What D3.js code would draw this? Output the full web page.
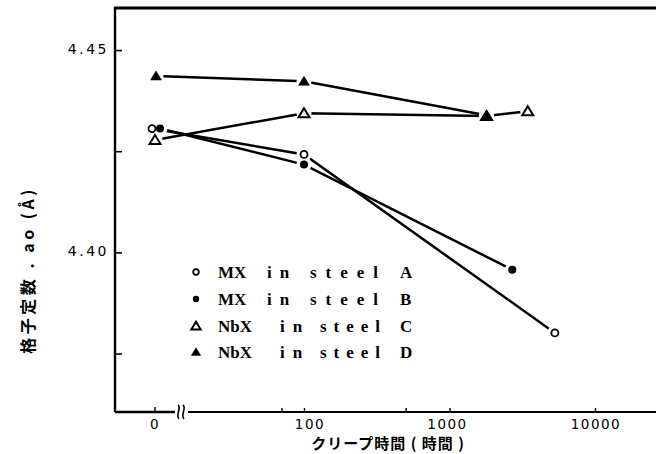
<!DOCTYPE html>
<html><head><meta charset="utf-8">
<script src="https://cdn.jsdelivr.net/npm/d3@7"></script>
<style>
html,body{margin:0;padding:0;background:#fff;}
svg{display:block;}
</style></head>
<body>
<svg id="chart" width="656" height="454"></svg>
<script>
// ---- data ----
const seriesNames = ["MX in steel A", "MX in steel B", "NbX in steel C", "NbX in steel D"];
const hoursA = [0, 100, 5300];
const valuesA = [4.4306, 4.4242, 4.3801];
const hoursB = [0, 100, 2700];
const valuesB = [4.4306, 4.4217, 4.3957];
const hoursC = [0, 100, 1800, 3450];
const valuesC = [4.4278, 4.4344, 4.4337, 4.4349];
const hoursD = [0, 100, 1790];
const valuesD = [4.4436, 4.4423, 4.4339];
const yTicks = [4.375, 4.40, 4.425, 4.45];
const yTickLabels = ["", "4.40", "", "4.45"];
const xMajorTicks = [100, 1000, 10000];
const xMajorLabels = ["100", "1000", "10000"];
const xMinorTicks = [70, 500];
const xTitle = "クリープ時間 ( 時間 )";
const yTitle = "格子定数 . ao (Å)";

// ---- layout ----
const plotLeft = 115, plotTop = 8, plotBottom = 412, rightEdge = 656;
const zeroX = 155;
const svg = d3.select("#chart");

const y = d3.scaleLinear().domain([4.3608, 4.4604]).range([411, 8]);
const xLog = d3.scaleLog().domain([100, 10000]).range([304, 595]);
const xPos = h => h === 0 ? zeroX : xLog(h);

const series = [
  {name: seriesNames[0], hours: hoursA, values: valuesA, shape: "circle", fill: false, dx0: -3},
  {name: seriesNames[1], hours: hoursB, values: valuesB, shape: "circle", fill: true, dx0: 5},
  {name: seriesNames[2], hours: hoursC, values: valuesC, shape: "tri", fill: false, dx0: 0},
  {name: seriesNames[3], hours: hoursD, values: valuesD, shape: "tri", fill: true, dx0: 1},
];

// axes frame
svg.append("line").attr("x1", plotLeft).attr("x2", plotLeft).attr("y1", plotTop - 1).attr("y2", plotBottom)
  .attr("stroke", "#000").attr("stroke-width", 2.4);
svg.append("line").attr("x1", plotLeft - 1).attr("x2", rightEdge).attr("y1", plotTop).attr("y2", plotTop)
  .attr("stroke", "#000").attr("stroke-width", 2.8);
// bottom axis with break
svg.append("line").attr("x1", plotLeft).attr("x2", 175).attr("y1", plotBottom).attr("y2", plotBottom)
  .attr("stroke", "#000").attr("stroke-width", 2.4);
svg.append("line").attr("x1", 188).attr("x2", rightEdge).attr("y1", plotBottom).attr("y2", plotBottom)
  .attr("stroke", "#000").attr("stroke-width", 2.2);
[178, 183].forEach(bx => {
  svg.append("path")
    .attr("d", `M${bx},${plotBottom - 7} C${bx + 4},${plotBottom - 4} ${bx - 3},${plotBottom + 3} ${bx + 1},${plotBottom + 7}`)
    .attr("fill", "none").attr("stroke", "#000").attr("stroke-width", 1.6);
});

// y ticks
const yAxis = d3.axisRight(y).tickValues(yTicks).tickSize(7).tickFormat(() => "");
const gy = svg.append("g").attr("transform", `translate(${plotLeft},0)`).call(yAxis);
gy.select(".domain").remove();
gy.selectAll(".tick line").attr("stroke", "#000").attr("stroke-width", 1.6);
svg.selectAll(".ylab").data(yTicks.map((v, i) => ({v, l: yTickLabels[i]})).filter(d => d.l))
  .enter().append("text")
  .attr("x", 109).attr("y", d => y(d.v) + 4)
  .attr("text-anchor", "end")
  .attr("font-family", "DejaVu Sans, sans-serif").attr("font-size", 14)
  .attr("letter-spacing", 2.5)
  .text(d => d.l);

// x ticks
const gx = svg.append("g").attr("transform", `translate(0,${plotBottom})`)
  .call(d3.axisTop(xLog).tickValues(xMajorTicks.concat(xMinorTicks)).tickSize(4).tickFormat(() => ""));
gx.select(".domain").remove();
gx.selectAll(".tick line").attr("stroke", "#000").attr("stroke-width", 1.4);
svg.append("line").attr("x1", zeroX).attr("x2", zeroX).attr("y1", plotBottom).attr("y2", plotBottom - 5)
  .attr("stroke", "#000").attr("stroke-width", 1.4);
const xLabelData = [{x: zeroX, l: "0"}].concat(xMajorTicks.map((v, i) => ({x: xLog(v) + (i === 0 ? 6 : (i === 1 ? -2 : 1)), l: xMajorLabels[i]})));
svg.selectAll(".xlab").data(xLabelData).enter().append("text")
  .attr("x", d => d.x).attr("y", 429)
  .attr("text-anchor", "middle")
  .attr("font-family", "DejaVu Sans, sans-serif").attr("font-size", 13.5)
  .attr("letter-spacing", 1.5)
  .text(d => d.l);

// titles
svg.append("text").attr("x", 388).attr("y", 449).attr("text-anchor", "middle")
  .attr("font-family", "Noto Sans CJK JP, sans-serif").attr("font-size", 15).attr("font-weight", "bold")
  .attr("letter-spacing", 1)
  .text(xTitle);
svg.append("text").attr("transform", "translate(34,270) rotate(-90)").attr("text-anchor", "middle")
  .attr("font-family", "Noto Sans CJK JP, sans-serif").attr("font-size", 16).attr("font-weight", "bold")
  .attr("letter-spacing", 3.5)
  .text(yTitle);

// marker drawing
function drawMarker(g, shape, fill, cx, cy, scale) {
  const s = scale || 1;
  if (shape === "circle") {
    g.append("circle").attr("cx", cx).attr("cy", cy).attr("r", (fill ? 4 : 3.5) * s)
      .attr("fill", fill ? "#000" : "#fff").attr("stroke", "#000").attr("stroke-width", fill ? 0 : 1.8);
  } else {
    const w = 5.5 * s, h = 9 * s;
    const pts = [[cx, cy - h * 0.55], [cx + w, cy + h * 0.45], [cx - w, cy + h * 0.45]];
    g.append("path").attr("d", "M" + pts.join("L") + "Z")
      .attr("fill", fill ? "#000" : "#fff").attr("stroke", "#000").attr("stroke-width", fill ? 0.5 : 2)
      .attr("stroke-linejoin", "miter");
  }
}

// lines
const lineGen = d3.line().x(d => d.x).y(d => d.y);
const plotG = svg.append("g");
series.forEach(s => {
  s.pts = s.hours.map((h, i) => ({x: xPos(h) + (h === 0 ? s.dx0 : 0), y: y(s.values[i])}));
  plotG.append("path").datum(s.pts).attr("d", lineGen)
    .attr("fill", "none").attr("stroke", "#000").attr("stroke-width", 2.5);
});
// white gaps around markers
series.forEach(s => {
  s.pts.forEach(p => {
    plotG.append("circle").attr("cx", p.x).attr("cy", p.y).attr("r", 7.5).attr("fill", "#fff");
  });
});
series.forEach(s => {
  s.pts.forEach(p => drawMarker(plotG, s.shape, s.fill, p.x, p.y));
});

// legend
const legendRows = [272, 299, 326, 352];
const legG = svg.append("g");
series.forEach((s, i) => {
  const ry = legendRows[i];
  drawMarker(legG, s.shape, s.fill, 196, ry, s.shape === "circle" ? 0.8 : 0.85);
  const parts = s.name.split(" ");
  const isNb = parts[0] === "NbX";
  const t = legG.append("text").attr("y", ry + 6)
    .attr("font-family", "Liberation Serif, serif").attr("font-size", 17).attr("font-weight", "bold");
  t.append("tspan").attr("x", 218).text(parts[0]);
  t.append("tspan").attr("x", isNb ? 280 : 267).attr("letter-spacing", 8).text(parts[1]);
  t.append("tspan").attr("x", isNb ? 320 : 310).attr("letter-spacing", isNb ? 7 : 9).text(parts[2]);
  t.append("tspan").attr("x", 400).text(parts[3]);
});
</script>
</body></html>
